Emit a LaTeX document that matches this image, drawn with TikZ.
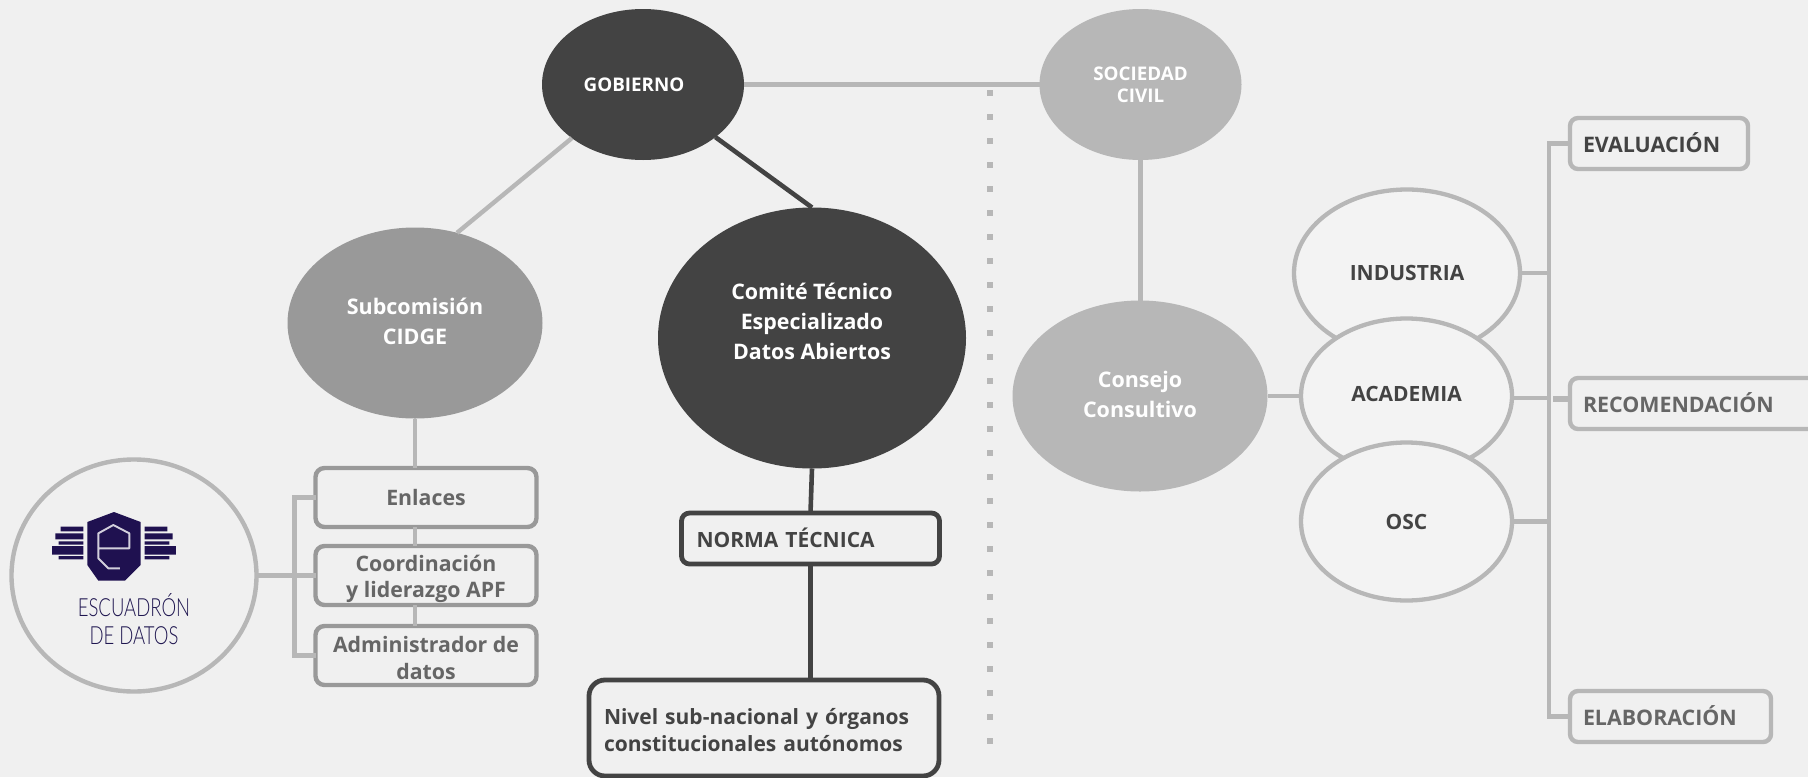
\documentclass[tikz,border=0pt]{standalone}
\usepackage{fontspec}
\setmainfont{Open Sans}
\newfontfamily\escfont[FakeStretch=0.74]{Lato Light}
\usetikzlibrary{shapes.geometric,calc}
\definecolor{bgc}{HTML}{F0F0F0}
\definecolor{darkc}{HTML}{434343}
\definecolor{midc}{HTML}{999999}
\definecolor{lightc}{HTML}{B7B7B7}
\definecolor{greyt}{HTML}{666666}
\definecolor{paper}{HTML}{F3F3F3}
\definecolor{indigo}{HTML}{1F1150}
\definecolor{esct}{HTML}{1F1650}
\newcommand{\fs}[2]{\fontsize{#1}{#2}\selectfont\bfseries}
\tikzset{
  x=1pt,y=-1pt,
  ell/.style={ellipse,inner sep=0pt,outer sep=0pt,align=center},
  ring/.style={ell,draw=lightc,line width=4.3pt,fill=paper,text=darkc,font=\fs{21}{30}},
  greybox/.style={rectangle,rounded corners=9pt,draw=midc,line width=4.4pt,text=greyt,
    inner sep=0pt,outer sep=0pt,align=center,font=\fs{21.3}{26.5},minimum width=221pt},
  tagbox/.style={rectangle,rounded corners=8pt,draw=lightc,line width=4.4pt,inner sep=0pt,inner xsep=13pt,
    outer sep=0pt,align=left,font=\fs{21.4}{26},minimum height=51pt},
  darkbox/.style={rectangle,draw=darkc,line width=4.8pt,text=darkc,inner sep=0pt,inner xsep=15pt,
    outer sep=0pt,align=left,font=\fs{21}{27}},
  lite/.style={draw=lightc,line width=4.4pt},
  dark/.style={draw=darkc,line width=4.6pt},
  dots/.style={draw=lightc,line width=6pt,dash pattern=on 6pt off 18pt},
}
\begin{document}
\begin{tikzpicture}
\useasboundingbox (0,0) rectangle (1808,777);
\fill[bgc] (0,0) rectangle (1808,777);
\clip (0,0) rectangle (1808,777);

% nodes
\node[ell,fill=darkc,text=white,minimum width=202pt,minimum height=151pt,font=\fs{18.8}{22}] (gob) at (643,84.5) {GOBIERNO\hspace{18pt}};
\node[ell,fill=lightc,text=white,minimum width=202pt,minimum height=151pt,font=\fs{18.8}{22}] (soc) at (1140.5,84.5) {SOCIEDAD\\CIVIL};
\node[ell,fill=midc,text=white,minimum width=255pt,minimum height=191pt,font=\fs{21.5}{30}] (sub) at (415,323) {Subcomisión\\CIDGE\\[-27.5pt]\mbox{}};
\node[ell,fill=darkc,text=white,minimum width=308pt,minimum height=261pt,font=\fs{21.4}{30}] (com) at (812,338) {Comité Técnico\\Especializado\\Datos Abiertos\\[4pt]\mbox{}};
\node[ell,fill=lightc,text=white,minimum width=255pt,minimum height=191pt,font=\fs{21.5}{30}] (con) at (1140,396) {Consejo\\Consultivo\\[-27.5pt]\mbox{}};

\node[ring,minimum width=226pt,minimum height=167pt] (ind) at (1407,273) {INDUSTRIA};
\node[ring,minimum width=211pt,minimum height=155pt] (aca) at (1406.5,396) {ACADEMIA\\[-26pt]\mbox{}};
\node[ring,minimum width=211pt,minimum height=158pt] (osc) at (1406.5,521.5) {OSC};

\node[ell,draw=lightc,line width=4.4pt,minimum width=245pt,minimum height=232pt] (esc) at (134,575.5) {};

\node[greybox,minimum height=59pt] (enl) at (426,497.5) {Enlaces};
\node[greybox,minimum height=59pt] (coo) at (426,575.5) {\mbox{}\\[-3.3pt]Coordinación\\y liderazgo APF};
\node[greybox,minimum height=59pt] (adm) at (426,655.5) {\mbox{}\\[-5.7pt]Administrador de\\datos};

\node[darkbox,rounded corners=8pt,text width=228pt,minimum height=51pt] (nor) at (810.5,538.5) {NORMA TÉCNICA\\[-25pt]\mbox{}};
\node[darkbox,rounded corners=16pt,text width=320pt,minimum height=96pt] (niv) at (764,728) {\mbox{}\\[-7.6pt]Nivel sub-nacional y órganos\\constitucionales autónomos};

\node[tagbox,text=darkc,text width=152pt] (eva) at (1659,143.5) {EVALUACIÓN\\[-24pt]\mbox{}};
\node[tagbox,text=greyt,text width=230pt] (rec) at (1698,403.5) {RECOMENDACIÓN\\[-24pt]\mbox{}};
\node[tagbox,text=greyt,text width=175pt] (ela) at (1670.5,716.5) {ELABORACIÓN\\[-24pt]\mbox{}};

% free-end coordinates
\coordinate (dtop) at (990,90);
\coordinate (dbot) at (990,745);
\coordinate (bus) at (1549,399);

% connectors
\draw[dots] (dtop) -- (dbot);
\draw[lite] (gob) -- (soc);
\draw[lite] (gob.217) -- (sub.65);
\draw[dark] (gob.-36) -- (com.north);
\draw[dark] (com.south) -- (nor.north);
\draw[dark] (nor.south) -- (nor.south |- niv.north);
\draw[lite] (soc.south) -- (soc.south |- con.north);
\draw[lite] (con.east) -- (aca.west |- con.east);
\draw[lite] (sub.south) -- (sub.south |- enl.north);
\draw[lite] (sub.south |- enl.south) -- (sub.south |- coo.north);
\draw[lite] (sub.south |- coo.south) -- (sub.south |- adm.north);
\draw[lite] (esc.east) -- (coo.west);
\draw[lite] (enl.west) -- ++(-21,0) |- (adm.west);
\draw[lite] (eva.west) -- ++(-21,0) |- (ela.west);
\draw[lite] (ind.east) -- (ind.east -| bus);
\draw[lite] (aca.-1) -- (aca.-1 -| bus);
\draw[lite] (osc.east) -- (osc.east -| bus);
\draw[draw=lightc,line width=5.5pt] ($(bus)+(4,0)$) -- (rec.west |- bus);

% logo
\begin{scope}[shift={(30,500)},x=0.33333pt,y=-0.33333pt]
\fill[indigo] (252,36) -- (332,66) -- (332,195) -- (285,242) -- (205,242) -- (172,195) -- (172,66) -- cycle;
\fill[indigo] (92,80) rectangle (160,94) (76,100) rectangle (160,118) (86,124) rectangle (160,134) (66,138) rectangle (160,164) (86,168) rectangle (160,178);
\fill[indigo] (344,80) rectangle (412,94) (344,100) rectangle (428,118) (344,124) rectangle (418,134) (344,138) rectangle (438,164) (344,168) rectangle (418,178);
\draw[white!80!indigo,line width=1.9pt,line join=round] (270,205) -- (235,205) -- (205,175) -- (205,100) -- (250,75) -- (298,100) -- (298,145) -- (205,145);
\end{scope}
\node[align=center,text=esct,font=\escfont\fontsize{25}{28.5}\selectfont,inner sep=0pt] (esclbl) at (134,619) {ESCUADRÓN\\DE DATOS};
\end{tikzpicture}
\end{document}
